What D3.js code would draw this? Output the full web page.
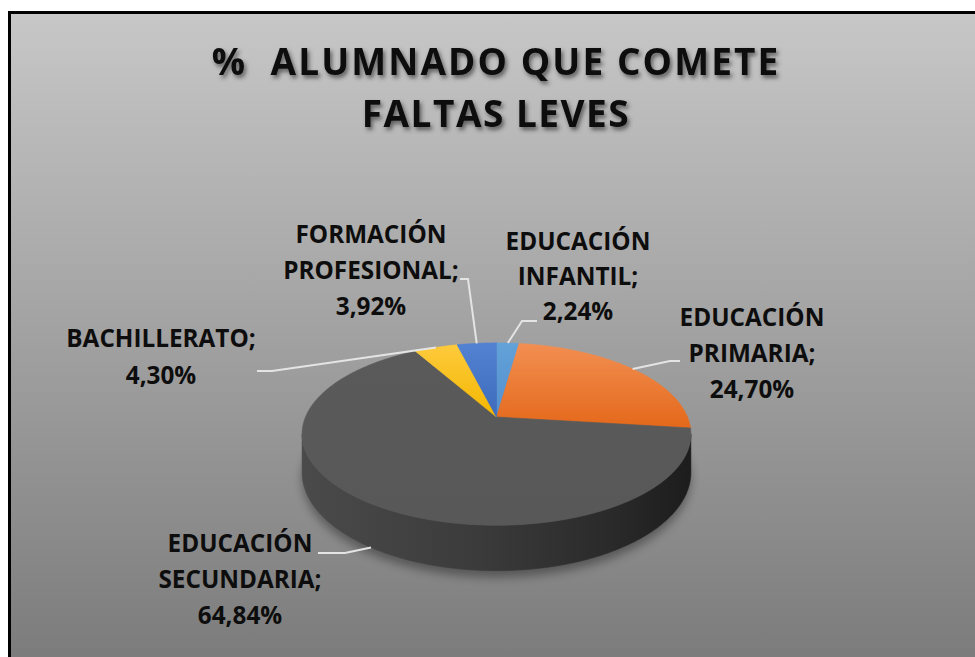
<!DOCTYPE html>
<html>
<head>
<meta charset="utf-8">
<script src="https://cdn.jsdelivr.net/npm/d3@7/dist/d3.min.js"></script>
<style>
  html, body { margin: 0; padding: 0; background: #ffffff; }
  svg { display: block; }
  text { white-space: pre; }
</style>
</head>
<body>
<svg id="chart" width="975" height="657"></svg>
<script>
// ---- data ----
const titleLines = ["%  ALUMNADO QUE COMETE", "FALTAS LEVES"];
const categories = ["EDUCACIÓN INFANTIL", "EDUCACIÓN PRIMARIA", "EDUCACIÓN SECUNDARIA", "BACHILLERATO", "FORMACIÓN PROFESIONAL"];
const values = [2.24, 24.70, 64.84, 4.30, 3.92];
const colors = [
  ["#63a1d9", "#5390cd"],
  ["#f28f52", "#e4681a"],
  ["#5a5a5a", "#585858"],
  ["#fdca3c", "#f4b700"],
  ["#5282d1", "#3e6bbd"]
];

// ---- layout ----
const W = 975, H = 657;
const pieCx = 496.5, pieCy = 417;
const RX = 191, RY = 88, PERSP = 0.187, DEPTH = 37;
// label layout: [center x, first baseline, line gap, leader start x, leader knee x, leader y]
const labelLayout = [
  [578, 250, 35, 537, 522, 321],
  [752, 326, 36, 680, 670, 361],
  [240, 552, 36, 318, 345, 553],
  [161, 347, 37, 257, 272, 371],
  [371, 243, 36, 460, 468, 279]
];
const titleSpacing = [2.1, 1.5];

const svg = d3.select("#chart");
const defs = svg.append("defs");

// background gradient
const bg = defs.append("linearGradient").attr("id", "bg").attr("x1", 0).attr("y1", 0).attr("x2", 0).attr("y2", 1);
bg.append("stop").attr("offset", "0%").attr("stop-color", "#c7c7c7");
bg.append("stop").attr("offset", "100%").attr("stop-color", "#797979");

svg.append("rect").attr("x", 9.5).attr("y", 12.5).attr("width", 990).attr("height", 670)
  .attr("fill", "url(#bg)").attr("stroke", "#000").attr("stroke-width", 3);

// filters
const ts = defs.append("filter").attr("id", "tshadow").attr("x", "-10%").attr("y", "-30%").attr("width", "120%").attr("height", "160%");
ts.append("feDropShadow").attr("dx", 2).attr("dy", 3).attr("stdDeviation", 2)
  .attr("flood-color", "#303030").attr("flood-opacity", 0.7);
const ps = defs.append("filter").attr("id", "pshadow").attr("x", "-20%").attr("y", "-20%").attr("width", "140%").attr("height", "140%");
ps.append("feGaussianBlur").attr("stdDeviation", 5);

// ---- projection of the tilted disc ----
function proj(theta, depth) {
  const k = 1 / (1 + PERSP * Math.cos(theta));
  return [pieCx + RX * Math.sin(theta) * k, pieCy - RY * Math.cos(theta) * k + DEPTH * depth * k];
}
function arcPts(a0, a1, depth) {
  const n = Math.max(2, Math.ceil(Math.abs(a1 - a0) / 0.01));
  return d3.range(n + 1).map(i => proj(a0 + (a1 - a0) * i / n, depth));
}
const line = d3.line();

const pie = d3.pie().sort(null).value(d => d).startAngle(0).endAngle(2 * Math.PI);
const arcs = pie(values);

const tA = Math.acos(-PERSP), tB = 2 * Math.PI - tA; // silhouette tangents

// shadow under the disc
svg.append("path")
  .attr("d", line(arcPts(0, 2 * Math.PI, 1.08)) + "Z")
  .attr("transform", "translate(0,3)")
  .attr("fill", "#000").attr("opacity", 0.35).attr("filter", "url(#pshadow)");

// side gradient
const sg = defs.append("linearGradient").attr("id", "side").attr("gradientUnits", "userSpaceOnUse")
  .attr("x1", pieCx - RX).attr("y1", 0).attr("x2", pieCx + RX).attr("y2", 0);
sg.append("stop").attr("offset", "0%").attr("stop-color", "#4a4a4a");
sg.append("stop").attr("offset", "45%").attr("stop-color", "#3b3b3b");
sg.append("stop").attr("offset", "80%").attr("stop-color", "#2a2a2a");
sg.append("stop").attr("offset", "100%").attr("stop-color", "#1d1d1d");

// side walls
arcs.forEach((a, i) => {
  const s = Math.max(a.startAngle, tA), e = Math.min(a.endAngle, tB);
  if (e <= s) return;
  const top = arcPts(s, e, 0), bot = arcPts(e, s, 1);
  svg.append("path").attr("d", line(top.concat(bot)) + "Z")
    .attr("fill", i === 2 ? "url(#side)" : d3.color(colors[i][1]).darker(1))
    .attr("stroke", i === 2 ? "url(#side)" : "none").attr("stroke-width", 0.5);
});

// top faces
arcs.forEach((a, i) => {
  const gid = "g" + i;
  const g = defs.append("linearGradient").attr("id", gid).attr("x1", 0).attr("y1", 0).attr("x2", 0).attr("y2", 1);
  g.append("stop").attr("offset", "0%").attr("stop-color", colors[i][0]);
  g.append("stop").attr("offset", "100%").attr("stop-color", colors[i][1]);
  const pts = [[pieCx, pieCy]].concat(arcPts(a.startAngle, a.endAngle, 0));
  svg.append("path").attr("d", line(pts) + "Z")
    .attr("fill", "url(#" + gid + ")")
    .attr("stroke", "url(#" + gid + ")").attr("stroke-width", 0.6).attr("stroke-linejoin", "round");
});

// leader lines
arcs.forEach((a, i) => {
  const mid = (a.startAngle + a.endAngle) / 2;
  const front = mid > tA && mid < tB;
  const p = proj(mid, front ? 1 : 0);
  const L = labelLayout[i];
  svg.append("path").attr("d", line([[L[3], L[5]], [L[4], L[5]], p]))
    .attr("fill", "none").attr("stroke", "#e4e4e4").attr("stroke-width", 2);
});

// labels
const fmt = v => d3.format(".2f")(v).replace(".", ",") + "%";
categories.forEach((c, i) => {
  const words = c.split(" ");
  words[words.length - 1] += ";";
  const lines = words.concat([fmt(values[i])]);
  const L = labelLayout[i];
  const t = svg.append("text").attr("text-anchor", "middle")
    .attr("font-family", "'Open Sans', 'Noto Sans', sans-serif").attr("font-weight", 700)
    .attr("font-size", 24.3).attr("fill", "#0d0d0d");
  lines.forEach((ln, j) => {
    t.append("tspan").attr("x", L[0]).attr("y", L[1] + j * L[2]).text(ln);
  });
});

// title
titleLines.forEach((tl, j) => {
  svg.append("text").attr("x", 496).attr("y", 75 + j * 52).attr("text-anchor", "middle")
    .attr("font-family", "'Open Sans', 'Noto Sans', sans-serif").attr("font-weight", 700)
    .attr("font-size", 37).attr("letter-spacing", titleSpacing[j]).attr("fill", "#0a0a0a")
    .attr("filter", "url(#tshadow)").text(tl);
});
</script>
</body>
</html>
